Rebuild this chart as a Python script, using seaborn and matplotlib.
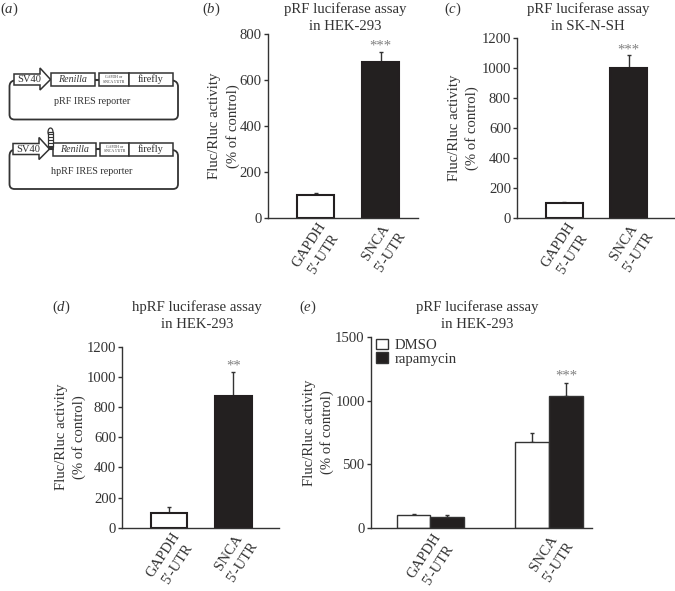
import matplotlib
matplotlib.use("Agg")
import matplotlib.pyplot as plt
import matplotlib.transforms as mtrans
from matplotlib.patches import Polygon, Rectangle, Ellipse, PathPatch
from matplotlib.path import Path
import pandas as pd
import seaborn as sns

W, H = 675, 591
INK = "#333333"
BLACK = "#231f20"
STAR = "#808080"

cats = ["GAPDH\n5′-UTR", "SNCA\n5′-UTR"]

b_vals = [100, 680]
b_tops = [107, 722]
c_vals = [100, 1000]
c_tops = [108, 1088]
d_vals = [100, 870]
d_tops = [135, 1030]

e_groups = ["DMSO", "rapamycin"]
e_dmso = [100, 675]
e_rapa = [90, 1040]
e_dmso_tops = [108, 750]
e_rapa_tops = [100, 1140]

sns.set_theme(style="ticks")
plt.rcParams["font.family"] = ["Liberation Serif", "DejaVu Serif"]
plt.rcParams["mathtext.fontset"] = "custom"
plt.rcParams["mathtext.rm"] = "Liberation Serif"
plt.rcParams["mathtext.it"] = "Liberation Serif:italic"
FS = 10.6

fig = plt.figure(figsize=(W / 100, H / 100), dpi=100)


def px_axes(left, right, top, bottom):
    return fig.add_axes([left / W, 1 - bottom / H, (right - left) / W, (bottom - top) / H])


def ftext(x, y, s, **kw):
    kw.setdefault("ha", "center")
    kw.setdefault("va", "center")
    kw.setdefault("color", INK)
    kw.setdefault("fontsize", FS)
    fig.text(x / W, 1 - y / H, s, **kw)


def style_axes(ax, ylim, yticks, xlim, label_x, box):
    left, right, top, bottom = box
    ax.set_xlim(*xlim)
    ax.set_ylim(*ylim)
    ax.set_yticks(yticks)
    sns.despine(ax=ax)
    for s in ["left", "bottom"]:
        ax.spines[s].set_linewidth(1.0)
        ax.spines[s].set_color(INK)
    ax.tick_params(axis="y", length=3, width=1, color=INK, labelcolor=INK, labelsize=FS, pad=1.5)
    ax.tick_params(axis="x", length=0, labelcolor=INK, labelsize=FS, pad=2)
    ax.set_xlabel("")
    ax.set_ylabel("Fluc/Rluc activity\n(% of control)", fontsize=FS, color=INK, va="center",
                  ha="center", linespacing=1.4)
    ax.yaxis.set_label_coords((label_x - left) / (right - left), 0.5)
    shift = mtrans.ScaledTranslation(2 / 100, 0, fig.dpi_scale_trans)
    for t in ax.get_xticklabels():
        t.set_rotation(57)
        t.set_ha("right")
        t.set_va("top")
        t.set_rotation_mode("anchor")
        t.set_multialignment("center")
        t.set_linespacing(1.4)
        t.set_transform(t.get_transform() + shift)


def add_errors(ax, bars, tops, vals):
    for p, top, val in zip(bars, tops, vals):
        x = p.get_x() + p.get_width() / 2
        ax.errorbar(x, val, yerr=[[0], [top - val]], color=INK, elinewidth=1, capsize=1.2,
                    capthick=1, zorder=1)


def add_stars(ax, x, top, s, dy):
    ax.annotate(s, (x, top), xytext=(0, dy), textcoords="offset points", ha="center",
                va="center", color=STAR, fontsize=FS)


def simple_panel(vals, tops, stars, box, xlim, ylim, yticks, label_x, star_dy):
    ax = px_axes(*box)
    df = pd.DataFrame({"cat": cats, "val": vals})
    sns.barplot(data=df, x="cat", y="val", hue="cat", palette=["white", BLACK], legend=False,
                width=0.57, edgecolor=BLACK, linewidth=1.5, ax=ax, zorder=2)
    style_axes(ax, ylim, yticks, xlim, label_x, box)
    add_errors(ax, ax.patches, tops, vals)
    add_stars(ax, 1, tops[1], stars, star_dy)
    return ax


simple_panel(b_vals, b_tops, "***", (267.7, 418, 34, 217.5), (-0.74, 1.572), (0, 800),
             [0, 200, 400, 600, 800], 224, 4)
simple_panel(c_vals, c_tops, "***", (517.3, 675, 38, 217.7), (-0.727, 1.718), (0, 1200),
             [0, 200, 400, 600, 800, 1000, 1200], 463.5, 3.5)
simple_panel(d_vals, d_tops, "**", (122.3, 279, 346.7, 527.7), (-0.73, 1.71), (0, 1200),
             [0, 200, 400, 600, 800, 1000, 1200], 70.5, 4.5)

# panel e has two series per group
box_e = (371, 592, 337, 528)
ax_e = px_axes(*box_e)
df_e = pd.DataFrame({
    "cat": cats * 2,
    "val": e_dmso + e_rapa,
    "treat": [e_groups[0]] * 2 + [e_groups[1]] * 2,
})
sns.barplot(data=df_e, x="cat", y="val", hue="treat", palette=["white", BLACK], width=0.57,
            edgecolor=INK, linewidth=1.0, ax=ax_e, zorder=2, gap=0)
style_axes(ax_e, (0, 1500), [0, 500, 1000, 1500], (-0.502, 1.363), 318.5, box_e)
e_bars = list(ax_e.containers[0]) + list(ax_e.containers[1])
add_errors(ax_e, e_bars, e_dmso_tops + e_rapa_tops, e_dmso + e_rapa)
add_stars(ax_e, e_bars[3].get_x() + e_bars[3].get_width() / 2, e_rapa_tops[1], "***", 5)
ax_e.legend(loc="upper left", bbox_to_anchor=((376 - 371) / 221, 0.992), frameon=False, fontsize=FS,
            handlelength=0.82, handleheight=0.72, handletextpad=0.45, labelspacing=0.02,
            borderpad=0, borderaxespad=0, labelcolor=INK)

# titles and panel letters
ftext(345, 18, "pRF luciferase assay\nin HEK-293", linespacing=1.4)
ftext(588, 18, "pRF luciferase assay\nin SK-N-SH", linespacing=1.4)
ftext(197, 316, "hpRF luciferase assay\nin HEK-293", linespacing=1.4)
ftext(477, 316, "pRF luciferase assay\nin HEK-293", linespacing=1.4)
ftext(9, 9, r"($\mathit{a}$)")
ftext(211, 9, r"($\mathit{b}$)")
ftext(453, 9, r"($\mathit{c}$)")
ftext(61, 307, r"($\mathit{d}$)")
ftext(308, 307, r"($\mathit{e}$)")

# panel a, plasmid schematic drawn in pixel space
sch = fig.add_axes([0, 0, 1, 1], zorder=-1)
sch.set_xlim(0, W)
sch.set_ylim(H, 0)
sch.axis("off")


def construct(y, arrow_x0, arrow_x1, ren_x0, ren_x1, utr_x0, label, hairpin):
    lw = 1.1
    # backbone with rounded corners
    L, R, r = 9.5, 178, 5
    top_y, back_y = y + 1, y + 40
    verts = [(arrow_x0, top_y), (L, top_y + 1), (L, top_y + 6),
             (L, back_y - r), (L, back_y), (L + r, back_y),
             (R - r, back_y), (R, back_y), (R, back_y - r),
             (R, top_y + 6), (R, top_y + 1), (173, top_y)]
    codes = [Path.MOVETO, Path.CURVE3, Path.CURVE3,
             Path.LINETO, Path.CURVE3, Path.CURVE3,
             Path.LINETO, Path.CURVE3, Path.CURVE3,
             Path.LINETO, Path.CURVE3, Path.CURVE3]
    sch.add_patch(PathPatch(Path(verts, codes), fc="none", ec=INK, lw=1.3, zorder=1))
    # promoter arrow
    tip = arrow_x1 + 10.5
    sch.add_patch(Polygon([(arrow_x0, y - 5.5), (arrow_x1, y - 5.5), (arrow_x1, y - 11.5), (tip, y),
                           (arrow_x1, y + 10.5), (arrow_x1, y + 5.5), (arrow_x0, y + 5.5)],
                          fc="white", ec=INK, lw=lw, zorder=2))
    for x0, x1 in [(ren_x0, ren_x1), (utr_x0, 129), (129, 173)]:
        sch.add_patch(Rectangle((x0, y - 6.5), x1 - x0, 13, fc="white", ec=INK, lw=lw, zorder=2))
    sch.plot([ren_x1, utr_x0], [y, y], color=INK, lw=1.5, zorder=1)
    ftext((arrow_x0 + arrow_x1) / 2 + 2, y, "SV40", fontsize=7.6)
    ftext((ren_x0 + ren_x1) / 2, y, "Renilla", fontsize=7.2, style="italic")
    ftext((utr_x0 + 129) / 2, y, "GAPDH or\nSNCA 5′UTR", fontsize=2.8, linespacing=1.2)
    ftext(151, y, "firefly", fontsize=7.4)
    ftext(92, y + 22.5, label, fontsize=7.3)
    if hairpin:
        sch.add_patch(Ellipse((50.5, 132), 5, 8, fc="white", ec=INK, lw=0.9, zorder=3))
        sch.add_patch(Rectangle((48, 132), 5, 15, fc="white", ec=INK, lw=0.9, zorder=3))
        for yy in range(134, 147, 3):
            sch.plot([48, 53], [yy, yy], color=INK, lw=0.8, zorder=4)
        sch.plot([49, 53], [148.5, 148.5], color=INK, lw=1.5, zorder=4)


construct(79.5, 14, 40, 51, 95, 99, "pRF IRES reporter", False)
construct(149, 13, 39, 53, 96, 100, "hpRF IRES reporter", True)

fig.savefig("out.png", dpi=100)
